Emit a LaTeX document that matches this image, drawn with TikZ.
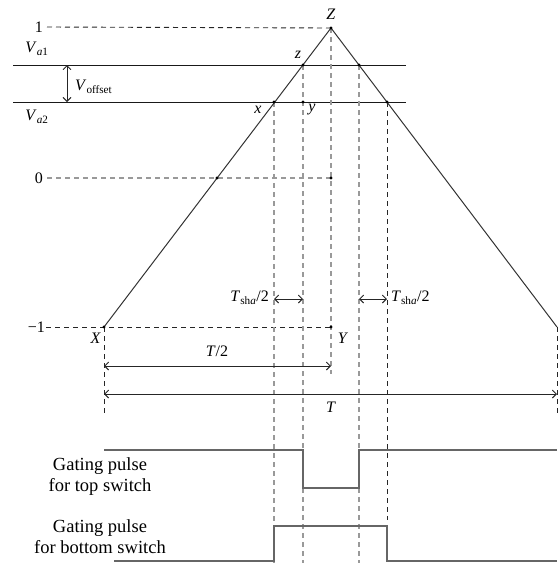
\documentclass[tikz,border=0pt]{standalone}
\usepackage{fontspec}
\setmainfont{Liberation Serif}
\usetikzlibrary{arrows.meta}
\begin{document}
\begin{tikzpicture}[x=1pt,y=-1pt,
  wave/.style={draw=black!80, line width=1pt},
  lvl/.style={draw=black!90, line width=0.9pt},
  guide/.style={draw=black!40, dash pattern=on 5pt off 4pt, line width=1.1pt},
  kguide/.style={draw=black!85, dash pattern=on 5pt off 4pt, line width=0.9pt},
  dimarr/.style={draw=black!85, line width=0.9pt, {Straight Barb[length=4pt,width=8pt]}-{Straight Barb[length=4pt,width=8pt]}},
  dot/.style={circle, fill=black, inner sep=0pt, minimum size=3.4pt},
  lab/.style={inner sep=1pt, font=\fontsize{16}{19}\selectfont},
  gate/.style={align=center, font=\fontsize{18.5}{21}\selectfont, inner sep=0pt},
  pulse/.style={draw=black!60, line width=1.1pt}]
\useasboundingbox (0,0) rectangle (560,563);
% key points
\coordinate (X) at (104,327);
\coordinate (Z) at (331,28);
\coordinate (R) at (557,327);
\coordinate (Y) at (331,327);
\coordinate (x) at (274,102);
\coordinate (y) at (303,102);
\coordinate (z) at (303,65);
\coordinate (r1) at (359,65);
\coordinate (r2) at (387,102);
\coordinate (o1) at (217,178);
\coordinate (o2) at (331,178);
% level lines
\coordinate (a1l) at (13,65);  \coordinate (a1r) at (406,65);
\coordinate (a2l) at (13,102); \coordinate (a2r) at (406,102);
\draw[lvl] (a1l) -- (a1r);
\draw[lvl] (a2l) -- (a2r);
% labels of levels
\node[lab, anchor=east] (one) at (44,27) {1};
\node[lab, anchor=east] (zero) at (44,178) {0};
\node[lab, anchor=east] (mone) at (46,327) {−1};
\node[lab] (va1) at (37,49) {\textit{V}\textsubscript{\textit{a}1}};
\node[lab] (va2) at (37,117) {\textit{V}\textsubscript{\textit{a}2}};
\coordinate (vo1) at (67,65); \coordinate (vo2) at (67,102);
\draw[dimarr] (vo1) -- (vo2);
\node[lab, anchor=west] (voff) at (74,87) {\textit{V}\textsubscript{offset}};
% horizontal dashed
\draw[kguide] (one.east) ++(3,0) -- (Z);
\draw[guide] (zero.east) ++(3,0) -- (o2);
\draw[kguide] (mone.east) -- (Y);
% vertical guides
\coordinate (xb) at (274,563);
\coordinate (zb) at (303,563);
\coordinate (Zb) at (331,374);
\coordinate (r1b) at (359,563);
\coordinate (r2b) at (387,520);
\coordinate (Xb) at (104,415);
\coordinate (Rb) at (557,415);
\draw[guide] (x) -- (xb);
\draw[guide] (z) -- (zb);
\draw[guide] (Z) -- (Zb);
\draw[guide] (r1) -- (r1b);
\draw[kguide] (r2) -- (r2b);
\draw[kguide] (X) -- (Xb);
\draw[kguide] (R) -- (Rb);
% triangle
\draw[wave] (X) -- (Z) -- (R);
% dots
\foreach \p in {Z,z,x,y,r1,r2,o1,o2,X,Y}
  \node[dot] at (\p) {};
% point labels
\node[lab] (Zl) at (331,14) {\textit{Z}};
\node[lab] (zl) at (298,55) {\textit{z}};
\node[lab] (xl) at (258,110) {\textit{x}};
\node[lab] (yl) at (312,110) {\textit{y}};
\node[lab, anchor=east] (Xl) at (102,338) {\textit{X}};
\node[lab] (Yl) at (343,338) {\textit{Y}};
% dead-time arrows
\coordinate (s1) at (274,299); \coordinate (s2) at (303,299);
\coordinate (s3) at (359,299); \coordinate (s4) at (387,299);
\draw[dimarr] (s1) -- (s2);
\draw[dimarr] (s3) -- (s4);
\node[lab, anchor=east] (t1) at (270,298) {\textit{T}\textsubscript{sh\textit{a}}/2};
\node[lab, anchor=west] (t2) at (390,298) {\textit{T}\textsubscript{sh\textit{a}}/2};
% period arrows
\coordinate (h1) at (104,366); \coordinate (h2) at (331,366);
\coordinate (p1) at (104,394); \coordinate (p2) at (557,394);
\draw[dimarr] (h1) -- (h2);
\draw[dimarr] (p1) -- (p2);
\node[lab] (half) at (217,351) {\textit{T}/2};
\node[lab] (per) at (331,407) {\textit{T}};
% gating pulses
\draw[pulse] (104,450) -- (303,450) -- (303,488) -- (359,488) -- (359,450) -- (557,450);
\draw[pulse] (114,561) -- (274,561) -- (274,526) -- (387,526) -- (387,561) -- (557,561);
\node[gate] (g1) at (100,477) {Gating pulse\\for top switch};
\node[gate] (g2) at (100,537) {Gating pulse\\for bottom switch};
\end{tikzpicture}
\end{document}
